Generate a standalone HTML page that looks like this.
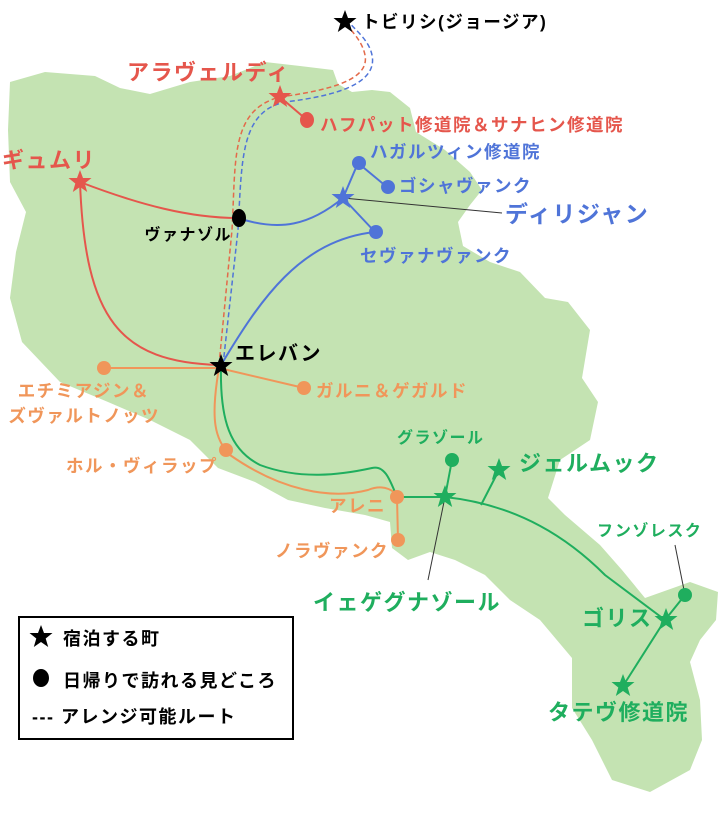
<!DOCTYPE html>
<html><head><meta charset="utf-8"><style>
body{margin:0;background:#fff;width:720px;height:815px;overflow:hidden}
svg text{font-family:"Liberation Sans","Noto Sans CJK JP",sans-serif;font-weight:bold;letter-spacing:1.5px}
</style></head><body>
<svg width="720" height="815" viewBox="0 0 720 815" xmlns="http://www.w3.org/2000/svg">
<defs>
<polygon id="st" points="0,-12 3,-4 11.5,-4 4.7,1.5 7.2,10 0,5 -7.2,10 -4.7,1.5 -11.5,-4 -3,-4"/>
</defs>
<path fill="#c4e3b2" d="M10,82 L45,72 L95,76 L120,88 L150,94 L190,82 L230,76 L265,62 L300,66 L333,70 L338,84 L352,92 L372,90 L390,92 L410,108 L416,132 L445,150 L470,172 L482,190 L470,205 L458,222 L463,246 L490,262 L520,272 L545,298 L568,302 L590,330 L582,378 L598,402 L590,440 L560,460 L548,498 L565,515 L600,545 L622,570 L645,598 L690,582 L718,592 L716,620 L700,640 L690,662 L700,700 L702,740 L690,770 L650,792 L612,780 L592,740 L572,708 L572,658 L540,620 L510,600 L485,575 L455,560 L430,552 L408,560 L392,548 L390,522 L365,515 L325,508 L288,500 L255,482 L218,468 L190,440 L150,420 L108,402 L60,382 L22,342 L10,298 L16,252 L26,212 L10,182 L8,130 Z"/>
<path d="M219,365 L232,230 C236,160 230,110 280,97 C330,90 370,80 365,55 C362,40 350,30 345,22" fill="none" stroke="#e36a4a" stroke-width="1.5" stroke-dasharray="5,3"/>
<path d="M223,365 L238,230 C242,160 240,112 285,102 C335,96 378,84 372,55 C369,40 355,30 349,22" fill="none" stroke="#4f74d8" stroke-width="1.5" stroke-dasharray="5,3"/>
<path d="M80,182 C140,205 190,218 238,218" fill="none" stroke="#e5564c" stroke-width="2"/>
<path d="M80,182 C85,320 120,362 219,365" fill="none" stroke="#e5564c" stroke-width="2"/>
<line x1="280" y1="97" x2="307" y2="120" stroke="#e5564c" stroke-width="2"/>
<path d="M238,218 C280,232 310,225 343,198" fill="none" stroke="#4f74d8" stroke-width="2"/>
<path d="M343,198 L358,163 L387,187 M343,198 L375,232" fill="none" stroke="#4f74d8" stroke-width="2"/>
<path d="M375,232 C300,240 260,300 221,365" fill="none" stroke="#4f74d8" stroke-width="2"/>
<line x1="343" y1="198" x2="502" y2="213" stroke="#333" stroke-width="1"/>
<path d="M104,368 L219,368 L304,388" fill="none" stroke="#f0965a" stroke-width="2"/>
<path d="M219,368 C210,420 215,440 230,455 C280,490 330,500 368,490 C385,483 396,492 397,497 L398,540" fill="none" stroke="#f0965a" stroke-width="2"/>
<path d="M221,368 C220,420 230,450 260,465 C300,480 340,475 372,468 C385,465 390,480 397,497 L445,497 C520,505 570,540 605,575 L665,620 L623,686" fill="none" stroke="#1fae5e" stroke-width="2"/>
<path d="M445,497 L452,460 M481,505 L499,470 M665,620 L685,595" fill="none" stroke="#1fae5e" stroke-width="2"/>
<line x1="445" y1="497" x2="428" y2="580" stroke="#333" stroke-width="1"/>
<line x1="685" y1="595" x2="675" y2="545" stroke="#333" stroke-width="1"/>
<use href="#st" x="345" y="22" fill="#000"/>
<use href="#st" x="280" y="97" fill="#e5564c"/>
<use href="#st" x="80" y="182" fill="#e5564c"/>
<use href="#st" x="343" y="198" fill="#4f74d8"/>
<use href="#st" x="221" y="366" fill="#000"/>
<use href="#st" x="445" y="497" fill="#1fae5e"/>
<use href="#st" x="499" y="470" fill="#1fae5e"/>
<use href="#st" x="666" y="620" fill="#1fae5e"/>
<use href="#st" x="623" y="686" fill="#1fae5e"/>
<ellipse cx="307" cy="120" rx="7" ry="8" fill="#e5564c"/>
<ellipse cx="239" cy="218" rx="7" ry="9" fill="#000"/>
<circle cx="359" cy="163" r="7" fill="#4f74d8"/>
<circle cx="388" cy="187" r="7" fill="#4f74d8"/>
<circle cx="376" cy="232" r="7" fill="#4f74d8"/>
<circle cx="104" cy="368" r="7" fill="#f0965a"/>
<circle cx="304" cy="388" r="7" fill="#f0965a"/>
<circle cx="226" cy="450" r="7" fill="#f0965a"/>
<circle cx="397" cy="497" r="7" fill="#f0965a"/>
<circle cx="398" cy="540" r="7" fill="#f0965a"/>
<circle cx="452" cy="460" r="7" fill="#1fae5e"/>
<circle cx="685" cy="595" r="7" fill="#1fae5e"/>
<g font-size="17.5">
<text x="362" y="28" fill="#000">トビリシ(ジョージア)</text>
<text x="127" y="80" fill="#e5564c" font-size="22">アラヴェルディ</text>
<text x="320" y="131" fill="#e5564c">ハフパット修道院＆サナヒン修道院</text>
<text x="2" y="168" fill="#e5564c" font-size="22">ギュムリ</text>
<text x="370" y="158" fill="#4f74d8">ハガルツィン修道院</text>
<text x="399" y="192" fill="#4f74d8">ゴシャヴァンク</text>
<text x="505" y="222" fill="#4f74d8" font-size="23">ディリジャン</text>
<text x="232" y="240" fill="#000" font-size="16" text-anchor="end">ヴァナゾル</text>
<text x="360" y="262" fill="#4f74d8">セヴァナヴァンク</text>
<text x="235" y="360" fill="#000" font-size="20">エレバン</text>
<text x="150" y="397" fill="#f0965a" text-anchor="end">エチミアジン＆</text>
<text x="160" y="422" fill="#f0965a" text-anchor="end">ズヴァルトノッツ</text>
<text x="316" y="397" fill="#f0965a">ガルニ＆ゲガルド</text>
<text x="218" y="472" fill="#f0965a" text-anchor="end">ホル・ヴィラップ</text>
<text x="397" y="443" fill="#1fae5e" font-size="16">グラゾール</text>
<text x="519" y="471" fill="#1fae5e" font-size="22">ジェルムック</text>
<text x="386" y="512" fill="#f0965a" text-anchor="end">アレニ</text>
<text x="389" y="557" fill="#f0965a" text-anchor="end">ノラヴァンク</text>
<text x="597" y="536" fill="#1fae5e" font-size="16">フンゾレスク</text>
<text x="313" y="610" fill="#1fae5e" font-size="22">イェゲグナゾール</text>
<text x="582" y="626" fill="#1fae5e" font-size="22">ゴリス</text>
<text x="548" y="720" fill="#1fae5e" font-size="22">タテヴ修道院</text>
</g>
<rect x="19" y="617" width="274" height="122" fill="#fff" stroke="#000" stroke-width="2"/>
<g font-size="18" fill="#000">
<use href="#st" x="41" y="637" fill="#000"/>
<text x="63" y="645">宿泊する町</text>
<ellipse cx="41" cy="678" rx="8" ry="9" fill="#000"/>
<text x="63" y="687">日帰りで訪れる見どころ</text>
<text x="32" y="723">--- アレンジ可能ルート</text>
</g>
</svg>
</body></html>
